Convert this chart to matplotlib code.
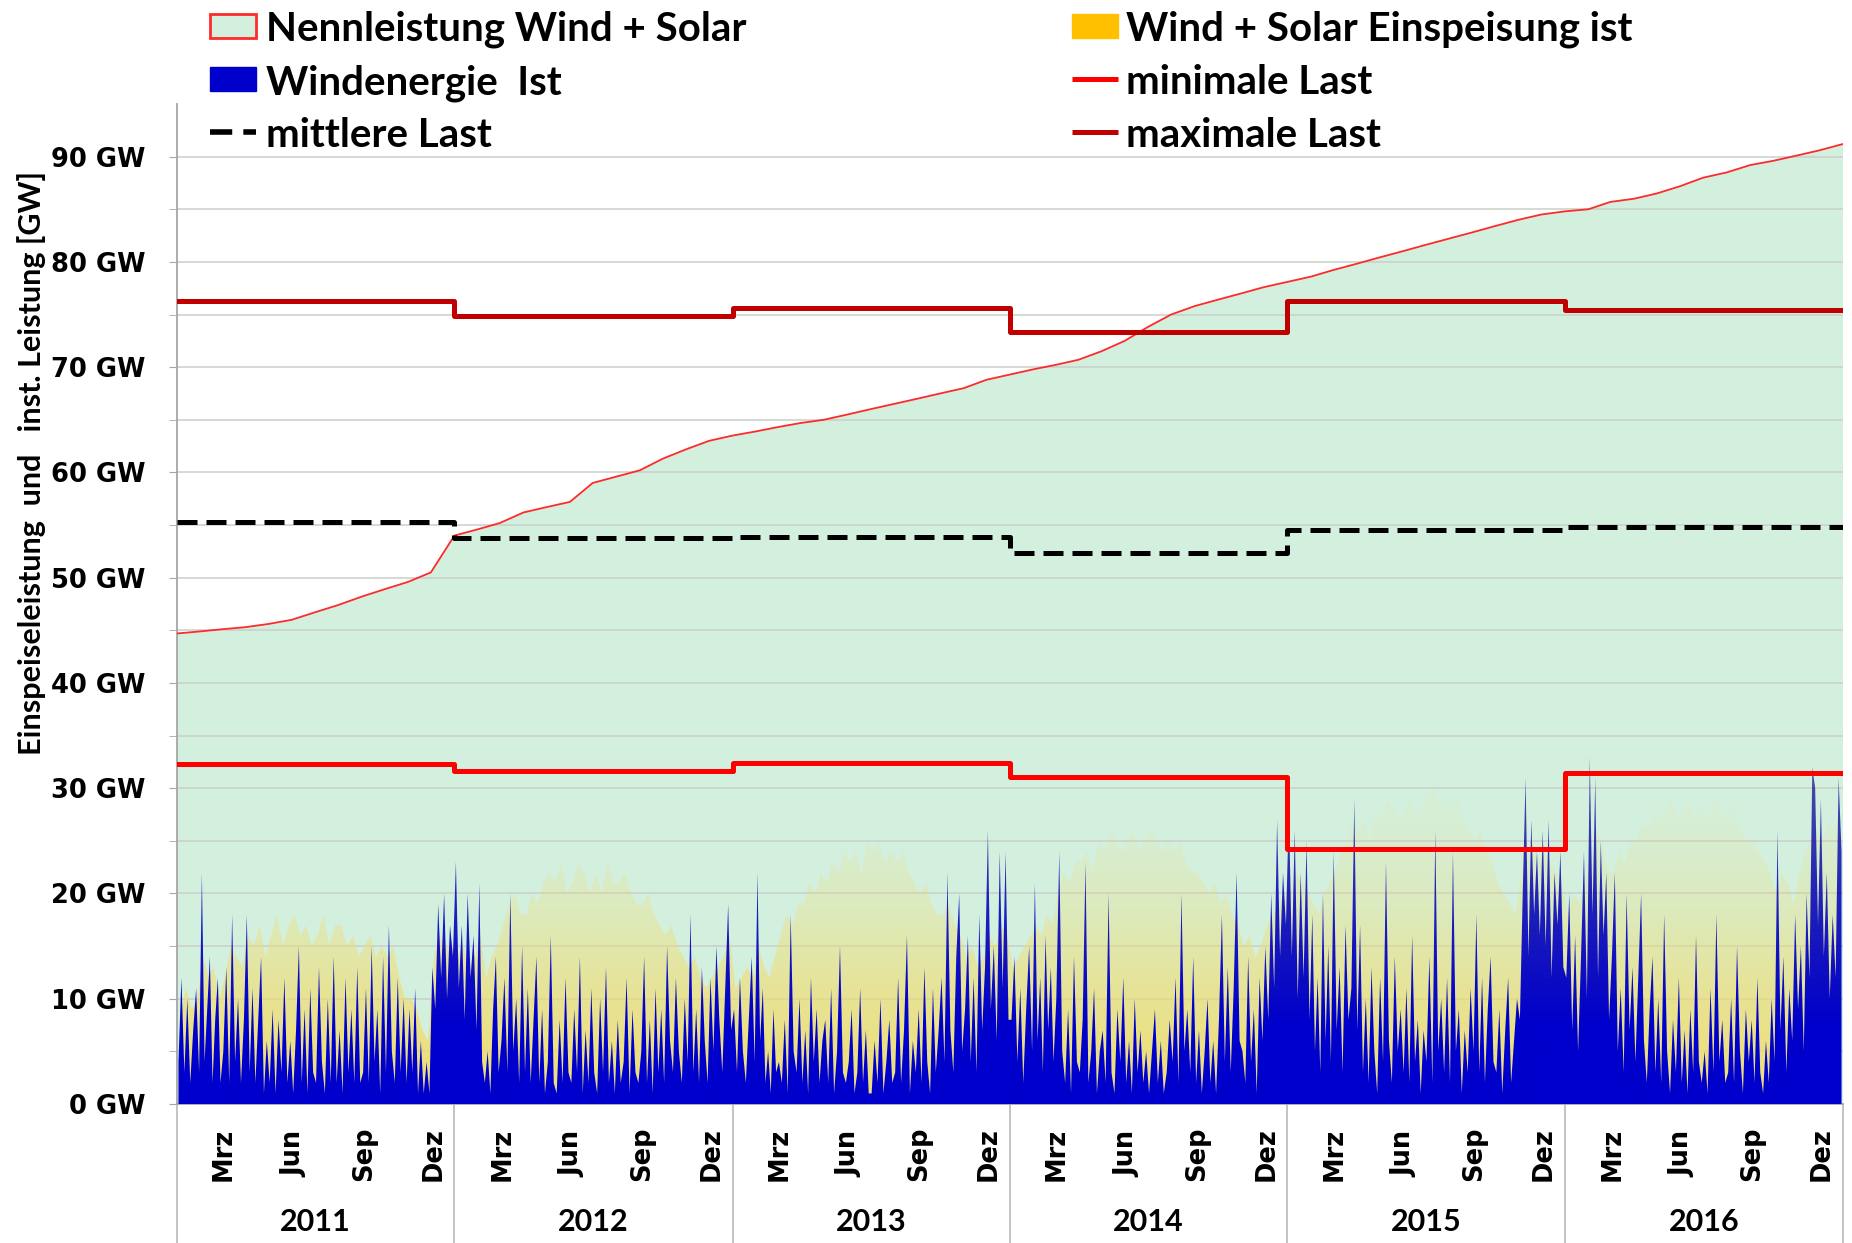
import numpy as np
import pandas as pd
import matplotlib
matplotlib.use("Agg")
import matplotlib.pyplot as plt
from matplotlib.patches import Rectangle
from matplotlib.lines import Line2D
from matplotlib import font_manager

# ---------------- data ----------------
years = [2011, 2012, 2013, 2014, 2015, 2016]
month_labels = ["Mrz", "Jun", "Sep", "Dez"]
month_label_idx = [2, 5, 8, 11]
y_ticks = [0, 10, 20, 30, 40, 50, 60, 70, 80, 90]

# installed capacity wind + solar [GW], value at the start of each month (+ end of 2016)
capacity_gw = [44.7, 44.9, 45.1, 45.3, 45.6, 46.0, 46.7, 47.4, 48.2, 48.9, 49.6, 50.5,
               54.0, 54.6, 55.2, 56.2, 56.7, 57.2, 59.0, 59.6, 60.2, 61.3, 62.2, 63.0,
               63.5, 63.9, 64.3, 64.7, 65.0, 65.5, 66.0, 66.5, 67.0, 67.5, 68.0, 68.8,
               69.3, 69.8, 70.2, 70.7, 71.5, 72.5, 73.8, 75.0, 75.8, 76.4, 77.0, 77.6,
               78.1, 78.6, 79.2, 79.8, 80.4, 81.0, 81.6, 82.2, 82.8, 83.4, 84.0, 84.5,
               84.8, 85.0, 85.7, 86.0, 86.5, 87.2, 88.0, 88.5, 89.2, 89.6, 90.1, 90.6,
               91.2]

max_load = [76.3, 74.9, 75.6, 73.3, 76.3, 75.4]
min_load = [32.3, 31.6, 32.4, 31.1, 24.2, 31.4]
mean_load = [55.3, 53.8, 53.9, 52.3, 54.5, 54.8]

# wind feed-in [GW], 8 readings per month
wind_2011 = [4, 12, 3, 10, 2, 7, 11, 3,   22, 4, 9, 14, 2, 8, 12, 2,   5, 13, 2, 18, 4, 10, 2, 8,
             18, 3, 11, 2, 8, 14, 1, 6,   2, 9, 1, 8, 3, 12, 2, 6,     1, 7, 15, 2, 9, 1, 11, 3,
             2, 13, 4, 1, 10, 2, 14, 2,   7, 1, 12, 3, 9, 2, 13, 2,    3, 11, 2, 15, 4, 9, 1, 14,
             3, 17, 5, 2, 12, 3, 10, 2,   9, 3, 11, 1, 6, 1, 4, 1,     13, 9, 19, 12, 20, 10, 17, 14]
wind_2012 = [23, 11, 17, 8, 20, 12, 16, 7,  21, 4, 2, 5, 1, 9, 14, 3,   6, 12, 3, 20, 5, 10, 2, 15,
             3, 11, 2, 8, 14, 2, 9, 1,     4, 16, 2, 1, 8, 2, 12, 3,   2, 9, 3, 14, 1, 7, 2, 11,
             3, 1, 10, 3, 13, 2, 6, 1,     8, 2, 4, 12, 1, 9, 3, 2,    5, 14, 2, 8, 1, 11, 3, 9,
             2, 15, 6, 3, 12, 5, 2, 10,    4, 18, 3, 9, 2, 13, 6, 2,   12, 5, 15, 8, 3, 11, 19, 7]
wind_2013 = [9, 3, 12, 5, 2, 8, 14, 4,     22, 6, 11, 2, 5, 1, 9, 3,   4, 2, 8, 1, 18, 5, 3, 10,
             2, 7, 1, 12, 4, 9, 2, 6,      8, 2, 11, 1, 5, 15, 3, 2,   4, 9, 1, 3, 11, 2, 7, 1,
             1, 6, 2, 10, 1, 4, 8, 2,      3, 12, 2, 7, 16, 1, 6, 3,   9, 2, 13, 4, 1, 11, 3, 7,
             12, 4, 22, 7, 3, 14, 20, 5,   9, 16, 4, 12, 3, 18, 7, 13, 26, 9, 15, 6, 24, 11, 24, 8]
wind_2014 = [8, 14, 4, 11, 2, 9, 15, 5,    21, 6, 12, 3, 16, 7, 13, 4, 10, 24, 5, 2, 9, 1, 14, 4,
             3, 8, 23, 2, 5, 11, 1, 5,     7, 2, 20, 3, 1, 9, 4, 12,   2, 6, 1, 10, 3, 7, 2, 5,
             1, 5, 9, 2, 6, 1, 3, 8,       4, 12, 2, 20, 5, 9, 3, 14,  2, 7, 1, 5, 10, 2, 6, 1,
             8, 18, 4, 13, 3, 11, 22, 6,   5, 2, 14, 4, 9, 1, 12, 6,   15, 8, 20, 11, 27, 14, 22, 17]
wind_2015 = [28, 14, 26, 10, 22, 12, 25, 8, 18, 5, 12, 3, 20, 6, 15, 4, 24, 7, 13, 3, 17, 8, 11, 29,
             7, 17, 3, 10, 2, 13, 5, 1,     12, 4, 23, 6, 2, 14, 5, 9,  3, 11, 2, 16, 4, 8, 1, 7,
             4, 14, 2, 26, 5, 10, 3, 12,    2, 24, 5, 9, 1, 7, 3, 11,   5, 18, 3, 12, 2, 9, 14, 4,
             3, 9, 1, 7, 12, 2, 6, 10,      8, 20, 31, 14, 27, 18, 24, 16, 26, 15, 27, 12, 22, 17, 24, 13]
wind_2016 = [12, 20, 7, 16, 5, 14, 24, 10,  33, 18, 31, 12, 25, 16, 22, 8, 14, 22, 5, 11, 3, 20, 7, 13,
             4, 12, 20, 6, 2, 9, 14, 3,     10, 2, 18, 5, 1, 8, 3, 12,  2, 7, 1, 9, 3, 16, 4, 2,
             5, 1, 11, 3, 18, 4, 8, 2,      3, 10, 2, 15, 5, 1, 9, 4,   8, 2, 12, 3, 1, 6, 2, 10,
             4, 26, 7, 14, 3, 11, 6, 18,    9, 15, 5, 20, 12, 32, 30, 17, 29, 14, 22, 10, 18, 12, 31, 24]

# wind + solar feed-in envelope [GW], 4 readings per month
total_2011 = [8, 11, 9, 10, 14, 12, 13, 10, 12, 15, 14, 13, 16, 15, 17, 14, 16, 18, 15, 17, 18, 16, 17, 15,
              16, 18, 15, 17, 17, 15, 16, 14, 15, 16, 14, 15, 14, 15, 12, 10, 10, 9, 7, 6, 14, 16, 15, 15]
total_2012 = [14, 15, 13, 14, 16, 12, 14, 15, 17, 19, 20, 18, 18, 20, 19, 21, 22, 21, 23, 20, 21, 23, 22, 20,
              22, 20, 23, 21, 21, 22, 20, 19, 19, 20, 18, 17, 16, 17, 15, 14, 13, 14, 12, 11, 12, 13, 14, 16]
total_2013 = [11, 12, 13, 12, 15, 13, 12, 14, 16, 18, 17, 19, 19, 21, 20, 22, 21, 23, 22, 24, 23, 24, 22, 25,
              24, 25, 23, 24, 23, 24, 22, 21, 20, 21, 19, 18, 18, 19, 17, 16, 14, 15, 13, 14, 16, 15, 17, 16]
total_2014 = [13, 14, 15, 16, 17, 16, 18, 17, 20, 22, 21, 23, 23, 24, 22, 25, 24, 26, 25, 24, 25, 26, 24, 25,
              26, 25, 24, 25, 24, 25, 23, 22, 22, 21, 20, 21, 19, 20, 18, 17, 15, 16, 14, 15, 17, 18, 19, 20]
total_2015 = [20, 22, 21, 20, 19, 18, 20, 21, 22, 24, 25, 27, 26, 27, 25, 28, 27, 29, 28, 27, 28, 29, 27, 28,
              29, 30, 28, 29, 28, 29, 27, 26, 25, 26, 24, 23, 21, 20, 19, 18, 22, 24, 25, 23, 24, 23, 22, 21]
total_2016 = [18, 20, 19, 21, 24, 26, 25, 22, 22, 24, 23, 25, 25, 27, 26, 28, 27, 28, 29, 27, 28, 29, 27, 28,
              27, 28, 29, 27, 28, 27, 26, 25, 25, 24, 23, 22, 20, 22, 21, 19, 22, 24, 25, 26, 25, 27, 26, 28]

# ---------------- geometry helpers ----------------
W, H = 1852, 1243
DPI = 100
names = {f.name for f in font_manager.fontManager.ttflist}
CAL = "Lato" if "Lato" in names else "DejaVu Sans"
VER = "DejaVu Sans"

t0 = pd.Timestamp("2011-01-01")
mstarts = pd.date_range("2011-01-01", "2017-01-01", freq="MS")
mday = np.array([(d - t0).days for d in mstarts], dtype=float)
ystarts = np.array([(pd.Timestamp(f"{y}-01-01") - t0).days for y in years + [2017]], dtype=float)
x_end = ystarts[-1]


def sub_positions(n):
    xs = []
    for i in range(72):
        a, b = mday[i], mday[i + 1]
        xs.extend(a + (np.arange(n) + 0.5) * (b - a) / n)
    return np.array(xs)


wind = np.array(wind_2011 + wind_2012 + wind_2013 + wind_2014 + wind_2015 + wind_2016, dtype=float)
total = np.array(total_2011 + total_2012 + total_2013 + total_2014 + total_2015 + total_2016, dtype=float)
x_wind = sub_positions(8)
x_total = sub_positions(4)

fig = plt.figure(figsize=(W / DPI, H / DPI), dpi=DPI)
fig.patch.set_facecolor("white")
ax_l, ax_r, ax_b, ax_t = 177, 1843, 1104, 104
ax = fig.add_axes([ax_l / W, 1 - ax_b / H, (ax_r - ax_l) / W, (ax_b - ax_t) / H])
ax.set_facecolor("white")
YMAX = 95
ax.set_xlim(0, x_end)
ax.set_ylim(0, YMAX)

# capacity area
ax.fill_between(mday, 0, capacity_gw, facecolor="#D3F0DF", edgecolor="none", zorder=1)
ax.plot(mday, capacity_gw, color="#FF2A2A", lw=1.3, zorder=6)

# grid
for g in np.arange(5, 95, 5):
    ax.axhline(g, color="#C9CFC9", lw=1.1, zorder=1.5)


def gradient_fill(x, y, stops_y, colors, alphas, zorder):
    poly = ax.fill_between(x, 0, y, facecolor="none", edgecolor="none", zorder=zorder)
    lev = np.linspace(0, YMAX, 400)
    img = np.zeros((400, 1, 4))
    cols = np.array(colors, dtype=float)
    for c in range(3):
        img[:, 0, c] = np.interp(lev, stops_y, cols[:, c])
    img[:, 0, 3] = np.interp(lev, stops_y, alphas)
    im = ax.imshow(img, aspect="auto", origin="lower", extent=[0, x_end, 0, YMAX],
                   zorder=zorder, interpolation="bilinear")
    im.set_clip_path(poly.get_paths()[0], transform=ax.transData)


Y = (0.96, 0.86, 0.40)
gradient_fill(x_total, total, [0, 6, 12, 18, 26, 40],
              [Y, Y, Y, Y, Y, Y], [0.85, 0.75, 0.55, 0.3, 0.1, 0.04], 2)
B0 = (0.0, 0.0, 0.80)
B1 = (0.05, 0.05, 0.72)
B2 = (0.20, 0.20, 0.55)
gradient_fill(x_wind, wind, [0, 8, 20, 35], [B0, B0, B1, B2], [1.0, 1.0, 0.9, 0.8], 3)

# load steps
xs_step = ystarts
ax.step(xs_step, max_load + [max_load[-1]], where="post", color="#C00000", lw=3.6, zorder=7)
ax.step(xs_step, min_load + [min_load[-1]], where="post", color="#FF0000", lw=3.6, zorder=7)
ax.step(xs_step, mean_load + [mean_load[-1]], where="post", color="black", lw=3.6,
        dashes=(4, 1.8), zorder=7)

ax.set_xlim(0, x_end)
ax.set_ylim(0, YMAX)

# spines & ticks
for s in ["top", "right"]:
    ax.spines[s].set_visible(False)
ax.spines["left"].set_color("#A6A6A6")
ax.spines["bottom"].set_color("#A6A6A6")
ax.spines["left"].set_linewidth(1.3)
ax.spines["bottom"].set_linewidth(1.3)
ax.set_yticks(y_ticks)
ax.set_yticklabels([f"{v} GW" for v in y_ticks], fontfamily=VER, fontweight="bold", fontsize=18.5)
ax.set_yticks(np.arange(5, 95, 10), minor=True)
ax.tick_params(axis="y", which="both", length=6, color="#A6A6A6", pad=17)
ax.set_xticks([])

ax.set_ylabel("Einspeiseleistung  und   inst. Leistung [GW]", fontfamily=CAL, fontweight="bold",
              fontsize=22)
ax.yaxis.set_label_coords(-(177 - 46) / (ax_r - ax_l), 1 - (463 - ax_t) / (ax_b - ax_t))

# category axis below
blend = ax.get_xaxis_transform()
ax_h = ax_b - ax_t
for i, yr in enumerate(years):
    for lab, mi in zip(month_labels, month_label_idx):
        xm = mday[i * 12 + mi] + 3
        ax.text(xm, -(1154 - ax_b) / ax_h, lab, transform=blend, rotation=90, ha="center",
                va="center", fontfamily=VER, fontweight="bold", fontsize=18.5, clip_on=False)
    xc = 0.5 * (ystarts[i] + ystarts[i + 1])
    ax.text(xc, -(1222 - ax_b) / ax_h, str(yr), transform=blend, ha="center", va="center",
            fontfamily=CAL, fontweight="bold", fontsize=22, clip_on=False)
for xb in ystarts:
    ax.plot([xb, xb], [0, -(H - ax_b) / ax_h], transform=blend, color="#BFBFBF", lw=1.3,
            clip_on=False, zorder=0)


# ---------------- legend (manual) ----------------
def fx(px):
    return px / W


def fy(py):
    return 1 - py / H


rows = [26, 79, 132]
col_handle = [210, 1072]
col_text = [266, 1126]
hw, hh = 46, 24
entries = [
    (0, 0, "box", dict(facecolor="#D3F0DF", edgecolor="#FF2A2A", lw=2.0), "Nennleistung Wind + Solar"),
    (0, 1, "box", dict(facecolor="#0000CC", edgecolor="#0000CC", lw=1), "Windenergie  Ist"),
    (0, 2, "dash", dict(color="black"), "mittlere Last"),
    (1, 0, "box", dict(facecolor="#FFC000", edgecolor="#FFC000", lw=1), "Wind + Solar Einspeisung ist"),
    (1, 1, "line", dict(color="#FF0000"), "minimale Last"),
    (1, 2, "line", dict(color="#C00000"), "maximale Last"),
]
for c, r, kind, st, label in entries:
    x0 = col_handle[c]
    yc = rows[r]
    if kind == "box":
        fig.add_artist(Rectangle((fx(x0), fy(yc + hh / 2)), hw / W, hh / H,
                                 transform=fig.transFigure, **st))
    elif kind == "line":
        fig.add_artist(Line2D([fx(x0), fx(x0 + hw)], [fy(yc), fy(yc)], lw=3.6,
                              transform=fig.transFigure, solid_capstyle="butt", **st))
    else:
        fig.add_artist(Line2D([fx(x0), fx(x0 + hw)], [fy(yc), fy(yc)], lw=4,
                              transform=fig.transFigure, dashes=(4, 2),
                              dash_capstyle="butt", **st))
    fig.text(fx(col_text[c]), fy(yc), label, ha="left", va="center_baseline", fontfamily=CAL,
             fontweight="bold", fontsize=29)

fig.savefig("out.png", dpi=DPI, facecolor="white")
